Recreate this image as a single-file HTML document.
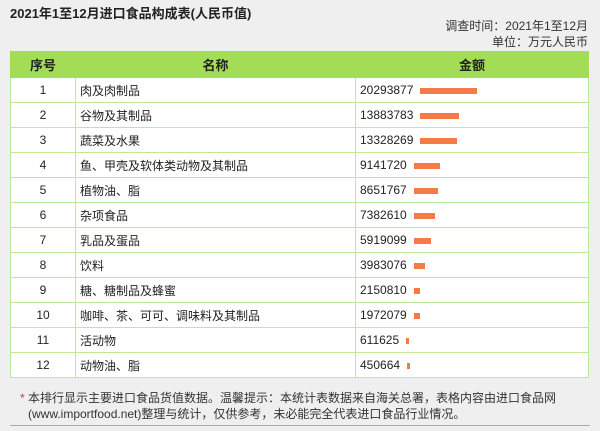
<!DOCTYPE html>
<html><head><meta charset="utf-8">
<style>
body{margin:0;width:600px;height:431px;background:#efefef;font-family:"Liberation Sans","Noto Sans CJK SC",sans-serif;color:#222;position:relative;overflow:hidden}
.title{position:absolute;left:10px;top:3px;font-size:13px;font-weight:bold}
.meta{position:absolute;right:12px;font-size:12px;color:#333}
table{position:absolute;left:10px;top:51px;width:579px;border-collapse:collapse;font-size:12px;background:#fff}
th{background:#a3dd56;height:25px;font-weight:bold;font-size:13px;border:1px solid #a3dd56;padding:0}
td{height:24px;border:1px solid #bfe897;padding:0 4px}
td.c{text-align:center}
.bar{display:inline-block;height:6px;background:#f47a48;vertical-align:middle;margin-left:7px}
.note{position:absolute;left:28px;top:390px;font-size:12px;line-height:16px;color:#333;width:540px}
.note span{color:#e03030;position:absolute;left:-8px}
.rule{position:absolute;left:10px;right:10px;top:425px;height:1px;background:#aaa}
</style></head><body>
<div class="title">2021年1至12月进口食品构成表(人民币值)</div>
<div class="meta" style="top:17px">调查时间：2021年1至12月</div>
<div class="meta" style="top:33px">单位：万元人民币</div>
<table>
<thead><tr>
<th style="width:64px">序号</th>
<th style="width:279px">名称</th>
<th>金额</th></tr></thead>
<tbody id="tb"></tbody></table>
<div class="note"><span>*</span>本排行显示主要进口食品货值数据。温馨提示：本统计表数据来自海关总署，表格内容由进口食品网(www.importfood.net)整理与统计，仅供参考，未必能完全代表进口食品行业情况。</div>
<div class="rule"></div>
<script>
const categories=["肉及肉制品","谷物及其制品","蔬菜及水果","鱼、甲壳及软体类动物及其制品","植物油、脂","杂项食品","乳品及蛋品","饮料","糖、糖制品及蜂蜜","咖啡、茶、可可、调味料及其制品","活动物","动物油、脂"];
const values=[20293877,13883783,13328269,9141720,8651767,7382610,5919099,3983076,2150810,1972079,611625,450664];
const maxV=Math.max(...values);
const barW=v=>Math.max(3,Math.round(v/maxV*57));
const tb=document.getElementById('tb');
categories.forEach((c,i)=>{
  const tr=document.createElement('tr');
  
  
  tr.innerHTML='<td class="c">'+(i+1)+'</td><td>'+c+'</td><td>'+values[i]+'<span class="bar" style="width:'+barW(values[i])+'px"></span></td>';
  const b=tr.querySelector('.bar');
  
  
  tb.appendChild(tr);
});
</script>
</body></html>
